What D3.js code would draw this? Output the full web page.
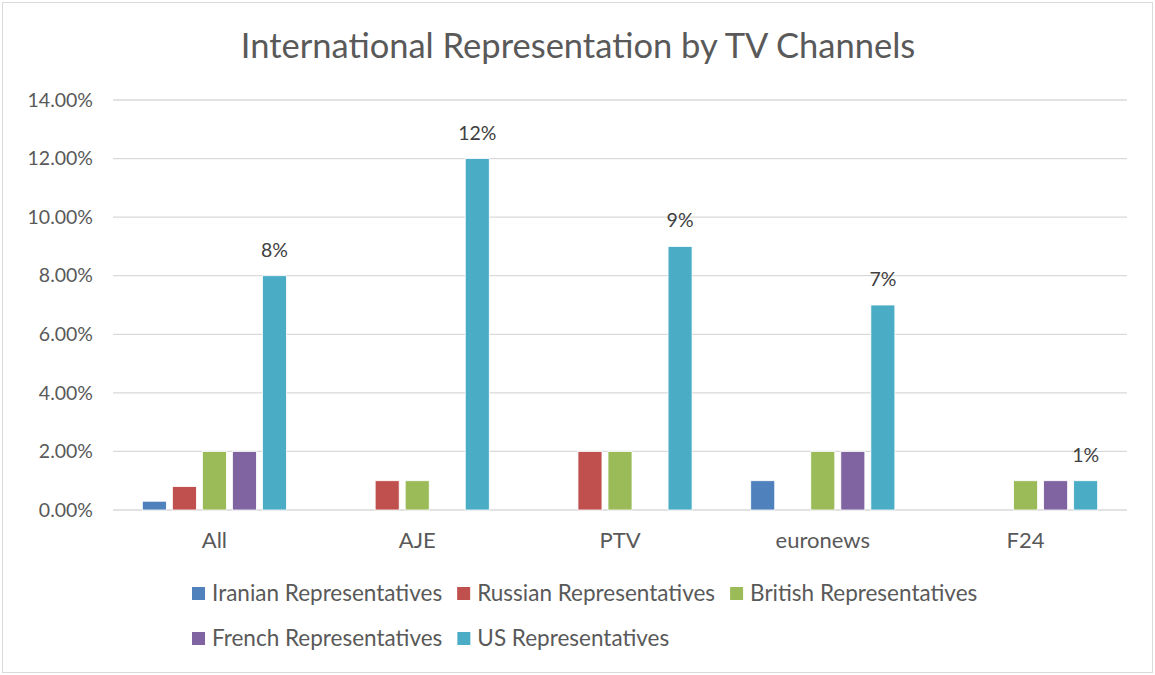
<!DOCTYPE html>
<html>
<head>
<meta charset="utf-8">
<script src="https://cdn.jsdelivr.net/npm/d3@7"></script>
<style>
  body { margin: 0; background: #fff; }
  text { font-family: Lato, "Open Sans", sans-serif; }
</style>
</head>
<body>
<div id="chart"></div>
<script>
// channels on the x axis, one group of bars per channel
const channels = ['All', 'AJE', 'PTV', 'euronews', 'F24'];
const seriesNames = ['Iranian Representatives', 'Russian Representatives', 'British Representatives',
                     'French Representatives', 'US Representatives'];
const seriesColors = ['#4f81bd', '#c0504d', '#9bbb59', '#8064a2', '#4bacc6'];

// shares, in fractions (0.08 = 8%)
const iranian = [0.003, 0, 0, 0.01, 0];
const russian = [0.008, 0.01, 0.02, 0, 0];
const british = [0.02, 0.01, 0.02, 0.02, 0.01];
const french  = [0.02, 0, 0, 0.02, 0.01];
const us      = [0.08, 0.12, 0.09, 0.07, 0.01];
const usLabels = ['8%', '12%', '9%', '7%', '1%'];

const yTicks = [0, 0.02, 0.04, 0.06, 0.08, 0.10, 0.12, 0.14];

const allSeries = [iranian, russian, british, french, us];

const width = 1155, height = 675;
const plot = {left: 113, right: 1127, top: 100, bottom: 510};

const svg = d3.select('#chart')
    .append('svg')
    .attr('width', width)
    .attr('height', height);

// outer frame
svg.append('rect')
    .attr('x', 2.5).attr('y', 2.5)
    .attr('width', width - 5).attr('height', height - 5)
    .attr('fill', '#fff')
    .attr('stroke', '#d9d9d9');

svg.append('text')
    .attr('x', 578)
    .attr('y', 58)
    .attr('text-anchor', 'middle')
    .attr('font-size', '34.5px')
    .attr('fill', '#595959')
    .text('International Representation by TV Channels');

let x0 = d3.scaleBand()
    .domain(channels)
    .range([plot.left, plot.right])
    .paddingInner(0.23)
    .paddingOuter(0.115);

let x1 = d3.scaleBand()
    .domain(seriesNames)
    .range([0, x0.bandwidth()])
    .padding(0.2);

let y = d3.scaleLinear()
    .domain([0, 0.14])
    .range([plot.bottom, plot.top]);

// gridlines
svg.append('g')
    .selectAll('line')
    .data(yTicks)
    .enter()
    .append('line')
    .attr('x1', plot.left)
    .attr('x2', plot.right)
    .attr('y1', d => y(d))
    .attr('y2', d => y(d))
    .attr('stroke', '#d9d9d9')
    .attr('stroke-width', 1.3);

// y axis labels
let y_axis = d3.axisLeft(y)
    .tickValues(yTicks)
    .tickFormat(d3.format('.2%'))
    .tickSize(0)
    .tickPadding(20);

let yg = svg.append('g')
    .attr('transform', 'translate(' + plot.left + ',0)')
    .call(y_axis);
yg.select('.domain').remove();
yg.selectAll('text')
    .attr('font-family', 'Lato, sans-serif')
    .attr('font-size', '19.5px')
    .attr('fill', '#595959');

// x axis labels
let x_axis = d3.axisBottom(x0).tickSize(0).tickPadding(22);
let xg = svg.append('g')
    .attr('transform', 'translate(0,' + plot.bottom + ')')
    .call(x_axis);
xg.select('.domain').remove();
xg.selectAll('text')
    .attr('font-family', 'Lato, sans-serif')
    .attr('font-size', '22px')
    .attr('fill', '#595959');

// bars
let rows = [];
channels.forEach((c, i) => {
    seriesNames.forEach((s, j) => {
        rows.push({channel: c, series: s, idx: j, value: allSeries[j][i]});
    });
});

svg.append('g')
    .selectAll('rect')
    .data(rows.filter(d => d.value > 0))
    .enter()
    .append('rect')
    .attr('x', d => x0(d.channel) + x1(d.series))
    .attr('y', d => y(d.value))
    .attr('width', x1.bandwidth())
    .attr('height', d => y(0) - y(d.value))
    .attr('fill', d => seriesColors[d.idx])
    .attr('stroke', '#fff')
    .attr('stroke-width', 0.8);

// data labels on the US series
svg.append('g')
    .selectAll('text')
    .data(channels)
    .enter()
    .append('text')
    .attr('x', (d) => x0(d) + x1(seriesNames[4]) + x1.bandwidth() / 2)
    .attr('y', (d, i) => y(us[i]) - 19)
    .attr('text-anchor', 'middle')
    .attr('font-size', '19.5px')
    .attr('fill', '#404040')
    .text((d, i) => usLabels[i]);

// legend, three items per row
const legendRows = [[0, 1, 2], [3, 4]];
legendRows.forEach((row, r) => {
    let lx = 192;
    let ly = 594 + r * 45;
    row.forEach(j => {
        svg.append('rect')
            .attr('x', lx)
            .attr('y', ly - 7)
            .attr('width', 13)
            .attr('height', 13)
            .attr('fill', seriesColors[j]);
        let t = svg.append('text')
            .attr('x', lx + 20)
            .attr('y', ly + 7)
            .attr('font-size', '22.5px')
            .attr('fill', '#595959')
            .text(seriesNames[j]);
        lx += 20 + t.node().getComputedTextLength() + 15;
    });
});
</script>
</body>
</html>
